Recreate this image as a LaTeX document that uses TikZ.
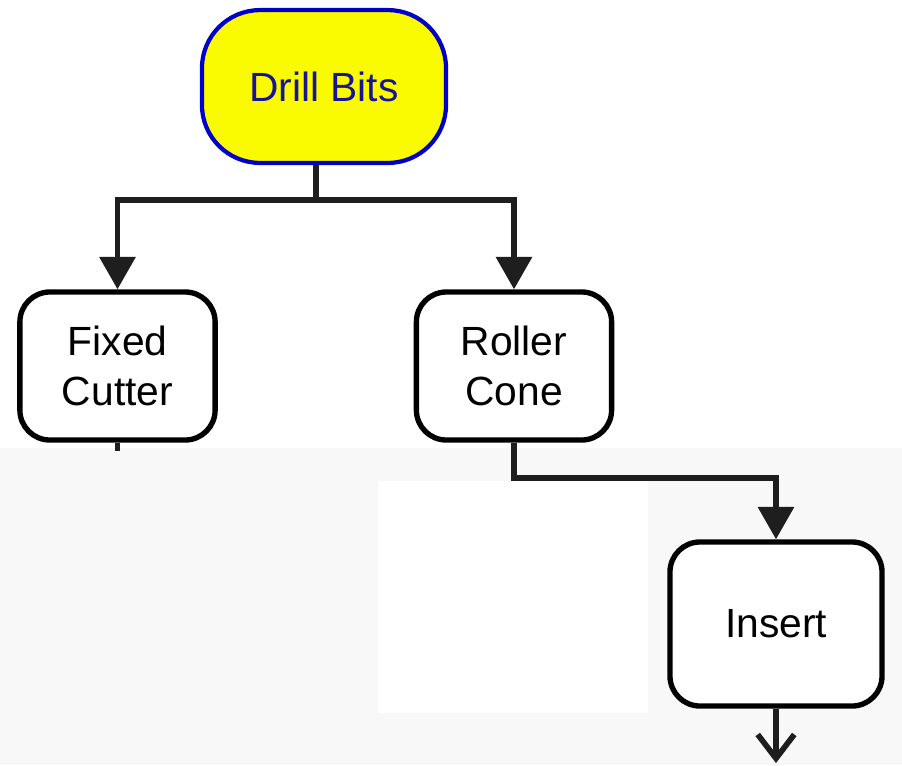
\documentclass[tikz,border=0pt]{standalone}
\usepackage{fontspec}
\setmainfont{Liberation Sans}
\usetikzlibrary{arrows.meta, positioning}
\definecolor{bitsyellow}{RGB}{250,250,0}
\definecolor{bitsblue}{RGB}{0,0,200}
\definecolor{bitstext}{RGB}{25,20,150}
\definecolor{linkgray}{RGB}{30,30,30}
\definecolor{backgray}{RGB}{248,248,248}
\tikzset{
  top box/.style={
    draw=bitsblue, fill=bitsyellow,  % the root box
    line width=3pt,
    rounded corners=1.45cm,
    minimum width=6.1cm, minimum height=3.82cm,
    text=bitstext, align=center,
    font=\fontsize{29}{35.5}\selectfont
  },
  bit box/.style={
    draw=black, fill=white,
    line width=3.8pt,
    rounded corners=0.75cm,
    minimum width=4.88cm, minimum height=3.7cm,
    align=center,
    font=\fontsize{29}{35.5}\selectfont
  },
  link line/.style={
    draw=linkgray, line width=4pt,
    >={Triangle[length=23pt,width=25pt]}
  }
}

\begin{document}
\begin{tikzpicture}[x=0.025cm, y=-0.025cm]
    \useasboundingbox (0,0) rectangle (902,765);
    % Background
    \fill[white] (0,0) rectangle (902,765);
    \fill[backgray] (0,448) rectangle (902,765);

    % Boxes
    \node[top box] (bits) at (324,86.5) {Drill Bits};
    \node[bit box] (fixed) at (117.5,366) {Fixed\\Cutter};
    \node[bit box] (roller) at (514,366) {Roller\\Cone};
    \node[bit box, minimum width=5.3cm, minimum height=4.1cm] (insert) at (776,624) {Insert};

    % Connectors
    \coordinate (split) at (316,200);
    \coordinate (out) at (776,763);
    \draw[link line] (split |- bits.south) -- (split);
    \draw[link line, ->] (split) -| (fixed.north);
    \draw[link line, ->] (split) -| (roller.north);
    \draw[link line, ->] (roller.south) -- ++(0,35) -| (insert.north);
    \draw[link line] (fixed.south) -- ++(0,8);
    \draw[link line, -{Straight Barb[length=17pt,width=26pt]}] (insert.south) -- (out);

    % Blank patch over the lower part
    \fill[white] (378,481) rectangle (648,713);
\end{tikzpicture}
\end{document}
